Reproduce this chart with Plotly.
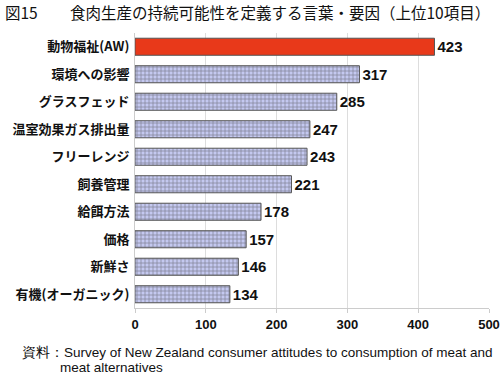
import plotly.graph_objects as go

categories = ["動物福祉(AW)", "環境への影響", "グラスフェッド", "温室効果ガス排出量", "フリーレンジ",
              "飼養管理", "給餌方法", "価格", "新鮮さ", "有機(オーガニック)"]
values = [423, 317, 285, 247, 243, 221, 178, 157, 146, 134]
x_ticks = [0, 100, 200, 300, 400, 500]

jp = "Noto Sans CJK JP"
num = "Liberation Sans, Arial, sans-serif"
narrow = "Liberation Sans Narrow, Arial Narrow, sans-serif"
colors = ["#e8391a"] + ["#c4c8f0"] * (len(values) - 1)
fg = ["#e8391a"] + ["#4c54c4"] * (len(values) - 1)
shapes = [""] + ["+"] * (len(values) - 1)

fig = go.Figure(go.Bar(
    y=categories, x=values, orientation="h",
    marker=dict(color=colors, line=dict(color="#555555", width=1),
                pattern=dict(shape=shapes, fgcolor=fg, size=4, solidity=0.35,
                             fillmode="overlay")),
    width=0.62,
    text=[str(v) for v in values], textposition="outside", cliponaxis=False,
    textfont=dict(family=narrow, size=15, color="#111111", weight="bold"),
    hoverinfo="skip",
))

W, H = 500, 375
l, r, t, b = 135, 11, 33, 67
pw, ph = W - l - r, H - t - b


def px(x):
    return (x - l) / pw


def py(y):
    return (H - b - y) / ph


fig.update_layout(
    width=W, height=H,
    margin=dict(l=l, r=r, t=t, b=b, autoexpand=False),
    paper_bgcolor="white", plot_bgcolor="white",
    showlegend=False,
    font=dict(family=jp, color="#111111"),
    xaxis=dict(range=[0, 500], tickvals=x_ticks, ticktext=[str(v) for v in x_ticks],
               automargin=False, ticklabeloverflow="allow",
               showgrid=True, gridcolor="#dddddd", gridwidth=1, zeroline=False,
               showline=True, linecolor="#cccccc", ticks="outside", tickcolor="#cccccc", ticklen=4,
               tickfont=dict(family=num, size=13, color="#111111", weight="bold")),
    yaxis=dict(autorange="reversed", showline=True, linecolor="#cccccc", automargin=False,
               ticks="", tickfont=dict(family=jp, size=13, color="#111111", weight="bold"),
               ticklabelstandoff=2),
    annotations=[
        dict(text="図15", x=px(3), y=py(12), xref="paper", yref="paper", showarrow=False,
             xanchor="left", yanchor="middle", font=dict(family=jp, size=15.5, color="#111111")),
        dict(text="食肉生産の持続可能性を定義する言葉・要因（上位10項目）", x=px(68), y=py(12),
             xref="paper", yref="paper", xanchor="left", yanchor="middle", showarrow=False,
             font=dict(family=jp, size=15.5, color="#111111")),
        dict(text="資料：Survey of New Zealand consumer attitudes to consumption of meat and",
             x=px(20), y=py(352), xref="paper", yref="paper", xanchor="left", yanchor="middle",
             showarrow=False, font=dict(family=num, size=13.5, color="#111111")),
        dict(text="meat alternatives", x=px(58), y=py(367), xref="paper", yref="paper",
             xanchor="left", yanchor="middle", showarrow=False,
             font=dict(family=num, size=13.5, color="#111111")),
    ],
)

fig.write_html("out.html", config={"displayModeBar": False},
               post_script="document.body.style.margin='0';document.body.style.padding='0';")
